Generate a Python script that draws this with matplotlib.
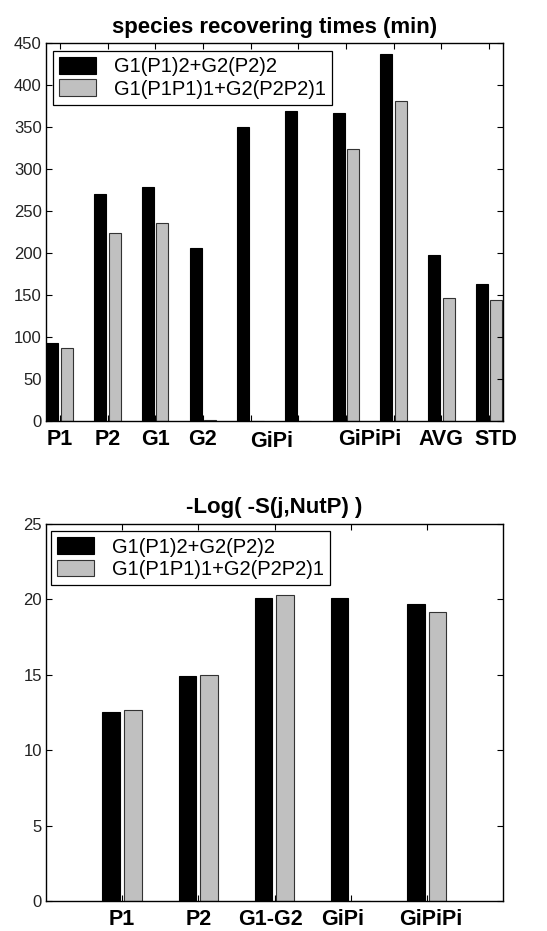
import matplotlib.pyplot as plt
import numpy as np

plt.rcParams['font.family'] = ['Liberation Sans', 'DejaVu Sans']

# top chart: species recovering times
groups_top = np.arange(1, 11)
black_top = [93, 270, 278, 205.5, 350, 368.5, 367, 437, 197.5, 163]
gray_top = [87.4, 224, 236, 1.5, 0, 0, 323.5, 381.5, 146.7, 144]
labels_top = ['P1', 'P2', 'G1', 'G2', 'GiPi', 'GiPiPi', 'AVG', 'STD']
label_pos_top = [1, 2, 3, 4, 5.45, 7.5, 9, 10.15]
label_drop_top = [9, 9, 9, 9, 12, 9, 9, 9]

# bottom chart: -Log(-S(j,NutP))
groups_bot = np.arange(1, 6)
black_bot = [12.56, 14.9, 20.09, 20.09, 19.72]
gray_bot = [12.64, 14.96, 20.29, 0, 19.14]
labels_bot = ['P1', 'P2', 'G1-G2', 'GiPi', 'GiPiPi']
label_pos_bot = [1, 2, 2.95, 3.9, 5.05]

legend_names = ['G1(P1)2+G2(P2)2', 'G1(P1P1)1+G2(P2P2)1']

W, H = 547, 931
fig = plt.figure(figsize=(W / 100, H / 100), dpi=100)

def style_axes(ax):
    for s in ax.spines.values():
        s.set_linewidth(1.0)
    ax.tick_params(direction='in', length=4, width=0.8, top=True, right=True,
                   labelsize=12, labelcolor='#222222', pad=3)
    ax.tick_params(axis='x', labelbottom=False)

def add_legend(ax, x, y):
    leg = ax.legend(loc='upper left', bbox_to_anchor=(x, y), fontsize=14.5,
                    fancybox=False, edgecolor='black', framealpha=1,
                    handlelength=1.85, handleheight=0.9, borderaxespad=0,
                    borderpad=0.3, labelspacing=0.15, handletextpad=0.9)
    leg.get_frame().set_linewidth(0.9)


# ---- top
ax1 = fig.add_axes([46 / W, 1 - 421 / H, 457 / W, 378 / H])
ax1.bar(groups_top - 0.155, black_top, 0.25, color='black', edgecolor='black',
        linewidth=0.8, label=legend_names[0])
ax1.bar(groups_top + 0.15, gray_top, 0.25, color='#c0c0c0', edgecolor='#333333',
        linewidth=0.8, label=legend_names[1])
ax1.set_xlim(0.71, 10.29)
ax1.set_ylim(0, 450)
ax1.set_yticks(np.arange(0, 451, 50))
ax1.set_xticks(groups_top)
style_axes(ax1)
for lab, p, d in zip(labels_top, label_pos_top, label_drop_top):
    ax1.text(p, -d, lab, ha='center', va='top', fontsize=15.5, fontweight='bold')
ax1.set_title('species recovering times (min)', fontsize=16, fontweight='bold', pad=7)
add_legend(ax1, 0.015, 0.979)

# ---- bottom
ax2 = fig.add_axes([46 / W, 1 - 901 / H, 457 / W, 377 / H])
ax2.bar(groups_bot - 0.145, black_bot, 0.23, color='black', edgecolor='black',
        linewidth=0.8, label=legend_names[0])
ax2.bar(groups_bot + 0.14, gray_bot, 0.23, color='#c0c0c0', edgecolor='#333333',
        linewidth=0.8, label=legend_names[1])
ax2.set_xlim(0, 6)
ax2.set_ylim(0, 25)
ax2.set_yticks(np.arange(0, 26, 5))
ax2.set_xticks(groups_bot)
style_axes(ax2)
for lab, p in zip(labels_bot, label_pos_bot):
    ax2.text(p, -0.5, lab, ha='center', va='top', fontsize=15.5, fontweight='bold')
ax2.set_title('-Log( -S(j,NutP) )', fontsize=16, fontweight='bold', pad=8)
add_legend(ax2, 0.011, 0.981)

fig.savefig('out.png', dpi=100, facecolor='white')
